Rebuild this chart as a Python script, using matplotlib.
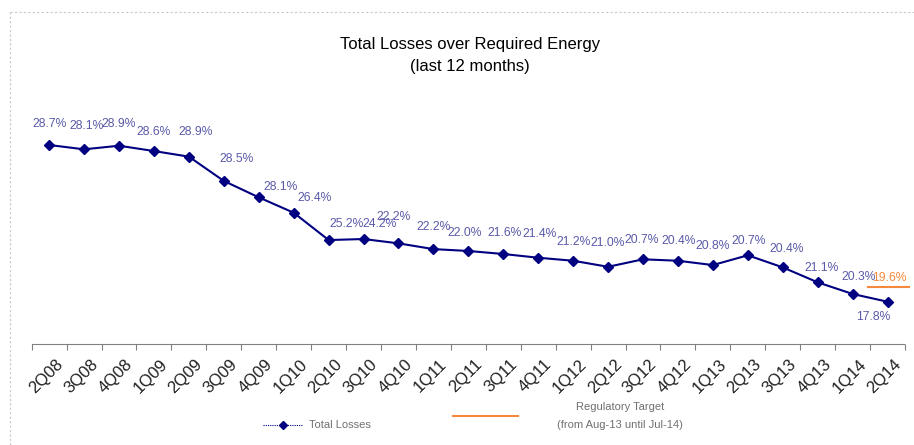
import numpy as np
import matplotlib
matplotlib.use('Agg')
import matplotlib.pyplot as plt
import matplotlib.transforms as mtransforms
from matplotlib.lines import Line2D

plt.rcParams['font.family'] = ['Liberation Sans', 'DejaVu Sans']

# Quarters on the x axis
quarters = ['2Q08', '3Q08', '4Q08', '1Q09', '2Q09', '3Q09', '4Q09', '1Q10',
            '2Q10', '3Q10', '4Q10', '1Q11', '2Q11', '3Q11', '4Q11', '1Q12',
            '2Q12', '3Q12', '4Q12', '1Q13', '2Q13', '3Q13', '4Q13', '1Q14', '2Q14']

# Line values (read from point heights, %)
total_losses = [28.70, 28.40, 28.65, 28.28, 27.89, 26.20, 25.06, 23.99,
                22.09, 22.16, 21.86, 21.46, 21.33, 21.12, 20.86, 20.65,
                20.23, 20.75, 20.65, 20.35, 21.03, 20.19, 19.15, 18.34, 17.80]

# Data labels as printed on the chart
loss_labels = ['28.7%', '28.1%', '28.9%', '28.6%', '28.9%', '28.5%', '28.1%', '26.4%',
               '25.2%', '24.2%', '22.2%', '22.2%', '22.0%', '21.6%', '21.4%', '21.2%',
               '21.0%', '20.7%', '20.4%', '20.8%', '20.7%', '20.4%', '21.1%', '20.3%', '17.8%']

# Regulatory target
target_value = 18.8
target_label = '19.6%'

# label offsets in pixels (dx, dy) relative to each point
label_offsets = [(0, 21), (2, 23), (0, 22), (0, 19), (7, 25), (13, 22), (22, 10), (21, 15),
                 (18, 16), (16, 15), (-5, 26), (0, 22), (-4, 18), (1, 21), (1, 24), (0, 19),
                 (0, 24), (-1, 19), (1, 20), (0, 19), (1, 14), (4, 18), (4, 14), (6, 17), (-14, -15)]

navy = '#000080'
label_col = '#5a5aa8'
orange = '#f58a3c'
grey_txt = '#707070'

fig = plt.figure(figsize=(9.14, 4.45), dpi=100)
ax = fig.add_axes([31.7 / 914, 101 / 445, 873.3 / 914, 244 / 445])

x = np.arange(len(quarters))
ax.plot(x, total_losses, color=navy, lw=1.5, marker='D', markersize=5.5, zorder=3)

for i, (v, lab) in enumerate(zip(total_losses, loss_labels)):
    dx, dy = label_offsets[i]
    ax.annotate(lab, (i, v), xytext=(dx, dy), textcoords='offset pixels',
                ha='center', va='center', fontsize=8.7, color=label_col)

# target segment near the last quarter
ax.plot([23.45, 24.62], [target_value, target_value], color=orange, lw=1.5, clip_on=False)
ax.annotate(target_label, (24.05, target_value), xytext=(0, 9), textcoords='offset pixels',
            ha='center', va='center', fontsize=8.7, color=orange)

ax.set_xlim(-0.5, len(quarters) - 0.5)
ax.set_ylim(14.86, 31.83)
ax.set_yticks([])
for s in ['left', 'right', 'top']:
    ax.spines[s].set_visible(False)
ax.spines['bottom'].set_linestyle((0, (1, 1)))
ax.spines['bottom'].set_color('#808080')
ax.spines['bottom'].set_linewidth(0.8)

ax.set_xticks(x)
ax.set_xticklabels(quarters, rotation=45, ha='right', va='top', rotation_mode='anchor',
                   fontsize=12, color='#202020')
ax.tick_params(axis='x', which='major', length=0, pad=9)
shift = mtransforms.ScaledTranslation(6 / 100, 0, fig.dpi_scale_trans)
for t in ax.get_xticklabels():
    t.set_transform(t.get_transform() + shift)
ax.set_xticks(np.arange(-0.5, len(quarters)), minor=True)
ax.tick_params(axis='x', which='minor', length=4, color='#808080', width=0.8)

# title
fig.text(470 / 914, 1 - 45 / 445, 'Total Losses over Required Energy', ha='center', va='center',
         fontsize=12, color='black')
fig.text(470 / 914, 1 - 67 / 445, '(last 12 months)', ha='center', va='center',
         fontsize=12, color='black')

# dashed chart border (top and left)
fig.add_artist(Line2D([10 / 914, 10 / 914], [0, 1 - 12 / 445], color='#c8c8c8', lw=0.8,
                      ls=(0, (2, 2))))
fig.add_artist(Line2D([10 / 914, 1], [1 - 12 / 445, 1 - 12 / 445], color='#c8c8c8', lw=0.8,
                      ls=(0, (2, 2))))

# legend
ly = 1 - 425 / 445
fig.add_artist(Line2D([263 / 914, 303 / 914], [ly, ly], color=navy, lw=0.8, ls=(0, (1, 1))))
fig.add_artist(Line2D([283 / 914], [ly], color=navy, marker='D', markersize=4))
fig.text(309 / 914, ly, 'Total Losses', ha='left', va='center', fontsize=8, color=grey_txt)
fig.add_artist(Line2D([453 / 914, 518 / 914], [1 - 416 / 445, 1 - 416 / 445], color=orange, lw=1.5))
fig.text(620 / 914, 1 - 407 / 445, 'Regulatory Target', ha='center', va='center', fontsize=8,
         color=grey_txt)
fig.text(620 / 914, 1 - 425 / 445, '(from Aug-13 until Jul-14)', ha='center', va='center',
         fontsize=8, color=grey_txt)

fig.savefig('out.png', dpi=100, facecolor='white')
